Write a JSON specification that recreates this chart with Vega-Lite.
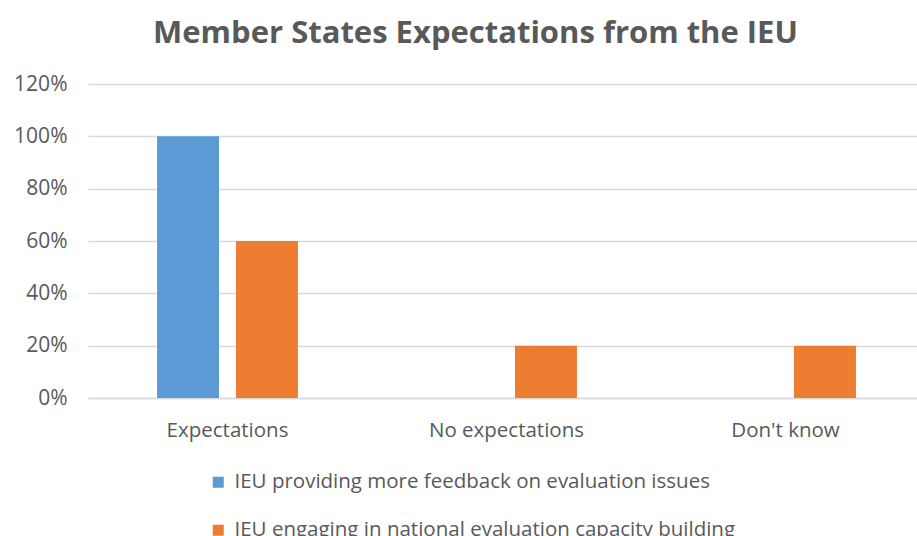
{
  "$schema": "https://vega.github.io/schema/vega-lite/v6.json",
  "autosize": "none",
  "width": 837,
  "height": 314,
  "padding": {"left": 88, "top": 84, "right": 0, "bottom": 138},
  "background": "white",
  "title": {
    "text": "Member States Expectations from the IEU",
    "font": "Open Sans",
    "fontSize": 31,
    "fontWeight": "bold",
    "color": "#595959",
    "anchor": "middle",
    "dx": -31,
    "offset": 23
  },
  "data": {
    "values": [
      {"category": "Expectations", "series": "IEU providing more feedback on evaluation issues", "value": 1.0},
      {"category": "Expectations", "series": "IEU engaging in national evaluation capacity building", "value": 0.6},
      {"category": "No expectations", "series": "IEU providing more feedback on evaluation issues", "value": 0.0},
      {"category": "No expectations", "series": "IEU engaging in national evaluation capacity building", "value": 0.2},
      {"category": "Don't know", "series": "IEU providing more feedback on evaluation issues", "value": 0.0},
      {"category": "Don't know", "series": "IEU engaging in national evaluation capacity building", "value": 0.2}
    ]
  },
  "mark": {"type": "bar"},
  "encoding": {
    "x": {
      "field": "category",
      "type": "nominal",
      "sort": ["Expectations", "No expectations", "Don't know"],
      "scale": {"paddingInner": 0.495, "paddingOuter": 0.2475},
      "axis": {
        "title": null,
        "labelAngle": 0,
        "labelFont": "Open Sans",
        "labelFontSize": 20.5,
        "labelColor": "#595959",
        "labelPadding": 22,
        "ticks": false,
        "domainColor": "#d9d9d9",
        "domainWidth": 1.5
      }
    },
    "xOffset": {
      "field": "series",
      "type": "nominal",
      "sort": ["IEU providing more feedback on evaluation issues", "IEU engaging in national evaluation capacity building"],
      "scale": {"paddingInner": 0.215, "paddingOuter": 0}
    },
    "y": {
      "field": "value",
      "type": "quantitative",
      "scale": {"domain": [0, 1.2]},
      "axis": {
        "title": null,
        "format": ".0%",
        "values": [0, 0.2, 0.4, 0.6, 0.8, 1.0, 1.2],
        "labelFont": "Open Sans",
        "labelFontSize": 21,
        "labelColor": "#595959",
        "labelPadding": 21,
        "ticks": false,
        "domain": false,
        "gridColor": "#d9d9d9",
        "gridWidth": 1.5
      }
    },
    "color": {
      "field": "series",
      "type": "nominal",
      "sort": ["IEU providing more feedback on evaluation issues", "IEU engaging in national evaluation capacity building"],
      "scale": {"range": ["#5B9BD5", "#ED7D31"]},
      "legend": {
        "title": null,
        "orient": "none",
        "direction": "vertical",
        "legendX": 120,
        "legendY": 388,
        "symbolType": "square",
        "symbolSize": 121,
        "symbolStrokeWidth": 0,
        "labelFont": "Open Sans",
        "labelFontSize": 20.5,
        "labelColor": "#595959",
        "labelOffset": 6,
        "labelLimit": 0,
        "rowPadding": 27
      }
    }
  },
  "config": {"view": {"stroke": null}}
}
